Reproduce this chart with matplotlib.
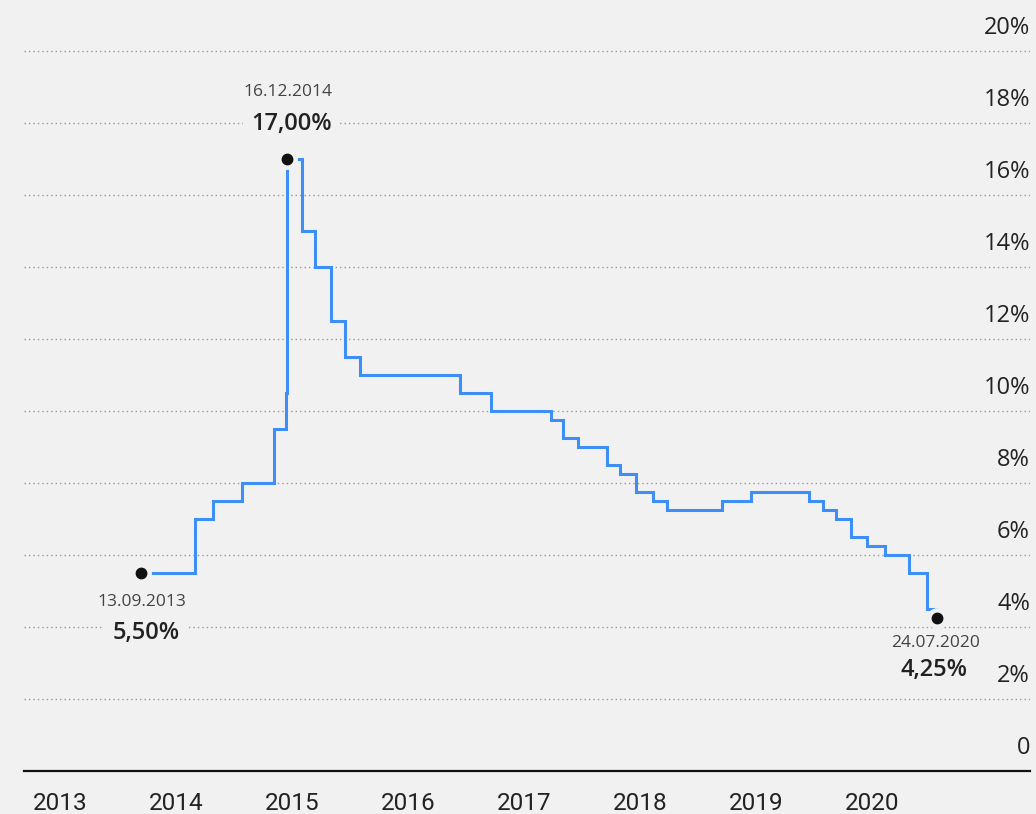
import numpy as np
import pandas as pd
import matplotlib.pyplot as plt
import matplotlib.transforms as mtransforms

# key rate decisions (date, %)
dates = ['2013-09-13', '2014-03-03', '2014-04-28', '2014-07-28', '2014-11-05',
         '2014-12-12', '2014-12-16', '2015-02-02', '2015-03-16', '2015-05-05',
         '2015-06-16', '2015-08-03', '2016-06-14', '2016-09-19', '2017-03-27',
         '2017-05-02', '2017-06-19', '2017-09-18', '2017-10-30', '2017-12-18',
         '2018-02-12', '2018-03-26', '2018-09-17', '2018-12-17', '2019-06-17',
         '2019-07-29', '2019-09-09', '2019-10-28', '2019-12-16', '2020-02-10',
         '2020-04-27', '2020-06-22', '2020-07-24']
rates = [5.50, 7.00, 7.50, 8.00, 9.50,
         10.50, 17.00, 15.00, 14.00, 12.50,
         11.50, 11.00, 10.50, 10.00, 9.75,
         9.25, 9.00, 8.50, 8.25, 7.75,
         7.50, 7.25, 7.50, 7.75, 7.50,
         7.25, 7.00, 6.50, 6.25, 6.00,
         5.50, 4.50, 4.25]

years = list(range(2013, 2021))
y_ticks = [0, 2, 4, 6, 8, 10, 12, 14, 16, 18, 20]
y_labels = ['0', '2%', '4%', '6%', '8%', '10%', '12%', '14%', '16%', '18%', '20%']

marked_dates = ['2013-09-13', '2014-12-16', '2020-07-24']
marked_rates = [5.50, 17.00, 4.25]
marked_date_labels = ['13.09.2013', '16.12.2014', '24.07.2020']
marked_value_labels = ['5,50%', '17,00%', '4,25%']

bg = '#f1f1f1'
blue = '#3d8ff5'

dates = pd.to_datetime(dates)
marked_dates = pd.to_datetime(marked_dates)

fig = plt.figure(figsize=(10.36, 8.14), dpi=100, facecolor=bg)
ax = fig.add_axes([24 / 1036, 43 / 814, 1006 / 1036, 771 / 814])
ax.set_facecolor(bg)

ax.set_xlim(pd.Timestamp('2012-09-10'), pd.Timestamp('2021-05-12'))
ax.set_ylim(0, 771 / 36)

# dotted grid
for v in y_ticks[1:]:
    ax.axhline(v, color='#9a9a9a', lw=1.0, linestyle=(0, (1, 2.2)), zorder=1)

ax.step(dates, rates, where='post', color=blue, lw=2.2, zorder=3,
        solid_joinstyle='miter')

# dots with background halo
ax.plot(marked_dates, marked_rates, 'o', ms=14, color=bg, zorder=4)
ax.plot(marked_dates, marked_rates, 'o', ms=7.5, color='#111111', zorder=5)

# annotation offsets in pixels: (date label), (value label)
offsets = [((1, -29), (5, -60)),
           ((1, 67), (5, 35)),
           ((-2, -25), (-3, -52))]
k = 72 / 100
for d, r, dl, vl, (o1, o2) in zip(marked_dates, marked_rates, marked_date_labels,
                                  marked_value_labels, offsets):
    ax.annotate(dl, xy=(d, r), xytext=(o1[0] * k, o1[1] * k),
                textcoords='offset points', ha='center', va='center',
                fontsize=12.5, color='#444444', family='Open Sans', zorder=6)
    ax.annotate(vl, xy=(d, r), xytext=(o2[0] * k, o2[1] * k),
                textcoords='offset points', ha='center', va='center',
                fontsize=17, color='#222222', family='Open Sans', weight='semibold',
                zorder=6,
                bbox=dict(boxstyle='square,pad=0.35', fc=bg, ec='none'))

# right side labels sitting above grid lines
trans = mtransforms.blended_transform_factory(ax.transAxes, ax.transData)
for v, lab in zip(y_ticks, y_labels):
    ax.text(1.0, v + 0.64, lab, transform=trans, ha='right', va='center',
            fontsize=17, color='#222222', family='Open Sans')

ax.set_yticks([])
ax.set_xticks([pd.Timestamp(f'{y}-01-01') for y in years])
ax.set_xticklabels([str(y) for y in years], family='Roboto',
                   fontsize=17.5, color='#222222')
ax.tick_params(axis='x', length=0, pad=15)

for s in ['top', 'left', 'right']:
    ax.spines[s].set_visible(False)
ax.spines['bottom'].set_color('#111111')
ax.spines['bottom'].set_linewidth(1.6)

fig.savefig('out.png', dpi=100, facecolor=bg)
